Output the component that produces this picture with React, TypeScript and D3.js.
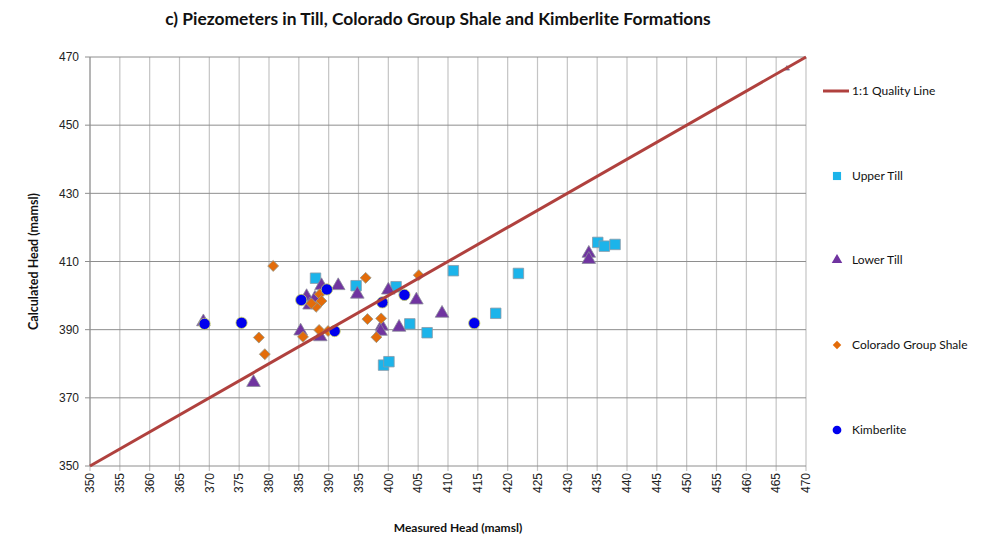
import * as d3 from "d3";

const upperTillX = [387.8, 394.6, 401.3, 410.9, 421.8, 418.0, 403.6, 406.5, 399.2, 400.1, 435.1, 436.2, 438.0];
const upperTillY = [405.1, 402.9, 402.6, 407.3, 406.5, 394.8, 391.7, 389.1, 379.6, 380.6, 415.6, 414.5, 415.0];

const lowerTillX = [369.0, 377.4, 385.3, 386.3, 387.7, 386.8, 388.8, 391.6, 388.6, 394.8, 400.0, 404.7, 409.0, 398.9, 398.7, 401.8, 433.6, 433.6, 466.8];
const lowerTillY = [392.3, 374.5, 389.6, 399.7, 399.2, 397.2, 402.9, 402.9, 387.9, 400.4, 401.6, 398.7, 394.8, 391.0, 389.5, 390.7, 412.4, 410.6, 466.6];

const shaleX = [380.7, 378.3, 379.3, 385.7, 388.4, 389.9, 388.5, 388.8, 387.9, 387.1, 396.2, 396.5, 398.0, 398.8, 405.1];
const shaleY = [408.7, 387.7, 382.8, 387.9, 389.9, 389.6, 400.4, 398.4, 396.7, 397.7, 405.2, 393.1, 387.8, 393.3, 406.0];

const kimberliteX = [369.2, 375.4, 385.4, 389.7, 391.0, 399.0, 402.7, 414.4];
const kimberliteY = [391.7, 392.0, 398.7, 401.8, 389.6, 398.0, 400.2, 391.9];

const xTicks = d3.range(350, 471, 5);
const yTicks = [350, 370, 390, 410, 430, 450, 470];
const qualityLine = [350, 470];

const W = 993;
const H = 541;
const margin = { left: 90, right: 187, top: 57, bottom: 75 };

const x = d3.scaleLinear().domain([350, 470]).range([margin.left, W - margin.right]);
const y = d3.scaleLinear().domain([350, 470]).range([H - margin.bottom, margin.top]);

const labelFont = "Lato, 'Open Sans', sans-serif";
const tickFont = "'Liberation Sans', Arial, sans-serif";

const series = [
  { name: "Upper Till", xs: upperTillX, ys: upperTillY, symbol: d3.symbolSquare, size: 110, rot: 0, fill: "#1cb4ea", stroke: "#8a9aa8" },
  { name: "Lower Till", xs: lowerTillX, ys: lowerTillY, symbol: d3.symbolTriangle, size: 80, rot: 0, fill: "#7034a0", stroke: "#8a8a9a" },
  { name: "Colorado Group Shale", xs: shaleX, ys: shaleY, symbol: d3.symbolSquare, size: 60, rot: 45, fill: "#e36c0a", stroke: "#9a9a8a" },
  { name: "Kimberlite", xs: kimberliteX, ys: kimberliteY, symbol: d3.symbolCircle, size: 100, rot: 0, fill: "#0000ee", stroke: "#c8d060" },
];

export default function App() {
  const lineGen = d3.line<number>().x(d => x(d)).y(d => y(d));
  const legendY = [176, 260, 345, 430];

  return (
    <svg width={W} height={H} style={{ position: "absolute", left: 0, top: 0, background: "#fff" }}>
      {/* vertical grid */}
      {xTicks.map(t => (
        <line key={"vx" + t} x1={x(t)} x2={x(t)} y1={y(470)} y2={y(350) + 5} stroke="#c4c4c4" strokeWidth={1.2} />
      ))}
      {/* horizontal grid */}
      {yTicks.map(t => (
        <line key={"hy" + t} x1={x(350) - 5} x2={x(470)} y1={y(t)} y2={y(t)} stroke="#8e8e8e" strokeWidth={1} />
      ))}
      <line x1={x(350)} x2={x(350)} y1={y(470)} y2={y(350)} stroke="#8e8e8e" />

      {/* y tick labels */}
      {yTicks.map(t => (
        <text key={"yl" + t} x={x(350) - 11} y={y(t)} dy="0.35em" textAnchor="end" fontFamily={tickFont} fontSize={12} fill="#222">
          {t}
        </text>
      ))}
      {/* x tick labels */}
      {xTicks.map(t => (
        <text key={"xl" + t} transform={`translate(${x(t)},${y(350) + 7}) rotate(-90)`} dy="0.35em" textAnchor="end" fontFamily={tickFont} fontSize={12} fill="#222">
          {t}
        </text>
      ))}

      {/* points */}
      {series.map(s =>
        s.xs.map((vx, i) => {
          // the last lower-till point sits on the 1:1 line at the corner and is mostly hidden
          const edge = vx > 460;
          return (
            <path
              key={s.name + i}
              d={d3.symbol(s.symbol, edge ? 12 : s.size)()!}
              transform={`translate(${x(vx)},${y(s.ys[i])}) rotate(${s.rot})`}
              fill={s.fill}
              stroke={s.stroke}
              strokeWidth={0.8}
            />
          );
        })
      )}

      {/* 1:1 line */}
      <path d={lineGen(qualityLine)!} fill="none" stroke="#b0413e" strokeWidth={3} />

      {/* title and axis labels */}
      <text x={438} y={25} textAnchor="middle" fontFamily={labelFont} fontWeight="bold" fontSize={17.4} fill="#111">
        c) Piezometers in Till, Colorado Group Shale and Kimberlite Formations
      </text>
      <text transform={`translate(38,${(y(350) + y(470)) / 2}) rotate(-90)`} textAnchor="middle" fontFamily={labelFont} fontWeight="bold" fontSize={12.5} fill="#111">
        Calculated Head (mamsl)
      </text>
      <text x={458} y={532} textAnchor="middle" fontFamily={labelFont} fontWeight="bold" fontSize={12} fill="#111">
        Measured Head (mamsl)
      </text>

      {/* legend */}
      <line x1={823} x2={849} y1={91} y2={91} stroke="#b0413e" strokeWidth={3} />
      <text x={852} y={91} dy="0.35em" fontFamily={labelFont} fontSize={12} fill="#111">1:1 Quality Line</text>
      {series.map((s, i) => (
        <g key={"lg" + s.name} transform={`translate(0,${legendY[i]})`}>
          <path d={d3.symbol(s.symbol, s.size * 0.6)()!} transform={`translate(837,0) rotate(${s.rot})`} fill={s.fill} />
          <text x={852} dy="0.35em" fontFamily={labelFont} fontSize={12} fill="#111">{s.name}</text>
        </g>
      ))}
    </svg>
  );
}
